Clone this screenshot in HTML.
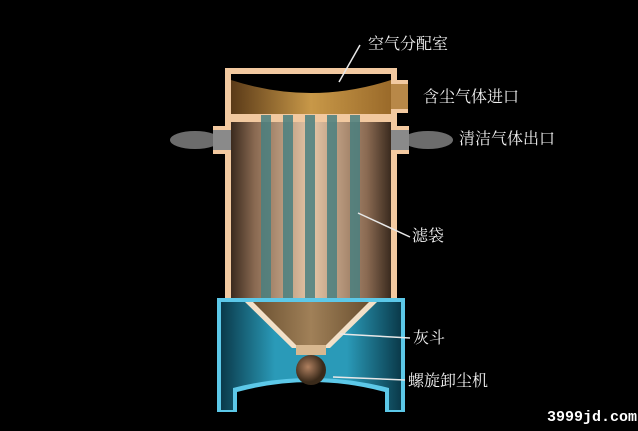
<!DOCTYPE html>
<html><head><meta charset="utf-8"><style>
html,body{margin:0;padding:0;background:#000;width:638px;height:431px;overflow:hidden}
svg{display:block}
text{font-family:"Liberation Serif","Noto Serif CJK SC",serif;fill:#f0f0f0;font-size:16px}
</style></head><body>
<svg width="638" height="431" viewBox="0 0 638 431">
<defs>
<linearGradient id="bag" x1="0" x2="1">
<stop offset="0" stop-color="#3a2a1e"/><stop offset="0.15" stop-color="#8a6a52"/><stop offset="0.5" stop-color="#e6c7a8"/><stop offset="0.85" stop-color="#8a6a52"/><stop offset="1" stop-color="#3a2a1e"/></linearGradient>
<linearGradient id="top" x1="0" x2="1">
<stop offset="0" stop-color="#5a3a18"/><stop offset="0.5" stop-color="#c89848"/><stop offset="1" stop-color="#9a6a2a"/></linearGradient>
<linearGradient id="blue" x1="0" x2="1">
<stop offset="0" stop-color="#0a3a4a"/><stop offset="0.3" stop-color="#2a9ab8"/><stop offset="0.7" stop-color="#2a9ab8"/><stop offset="1" stop-color="#0a3a4a"/></linearGradient>
<linearGradient id="cone" x1="0" x2="1">
<stop offset="0" stop-color="#6a5030"/><stop offset="0.5" stop-color="#a08058"/><stop offset="1" stop-color="#6a5030"/></linearGradient>
<radialGradient id="ball" cx="0.4" cy="0.4"><stop offset="0" stop-color="#b08060"/><stop offset="1" stop-color="#3a2a1a"/></radialGradient>
</defs>
<ellipse cx="195" cy="140" rx="25" ry="9" fill="#9a9a9a" opacity="0.7"/>
<ellipse cx="428" cy="140" rx="25" ry="9" fill="#9a9a9a" opacity="0.7"/>
<rect x="225" y="68" width="172" height="50" fill="#f2c9a0"/>
<rect x="231" y="74" width="160" height="40" fill="url(#top)"/>
<path d="M231 74 L391 74 L391 80 Q311 106 231 80 Z" fill="#000"/>
<rect x="391" y="84" width="17" height="25" fill="#b88848"/>
<rect x="391" y="80" width="17" height="4" fill="#f2c9a0"/>
<rect x="391" y="109" width="17" height="4" fill="#f2c9a0"/>
<rect x="225" y="118" width="172" height="182" fill="#f2c9a0"/>
<rect x="231" y="122" width="160" height="176" fill="url(#bag)"/>
<rect x="213" y="126" width="18" height="4" fill="#f2c9a0"/>
<rect x="213" y="150" width="18" height="4" fill="#f2c9a0"/>
<rect x="391" y="126" width="18" height="4" fill="#f2c9a0"/>
<rect x="391" y="150" width="18" height="4" fill="#f2c9a0"/>
<rect x="213" y="130" width="18" height="20" fill="#8a8a8a"/>
<rect x="391" y="130" width="18" height="20" fill="#8a8a8a"/>
<g fill="#4a8080" opacity="0.85">
<rect x="261" y="115" width="10" height="185"/><rect x="283" y="115" width="10" height="185"/><rect x="305" y="115" width="10" height="185"/><rect x="327" y="115" width="10" height="185"/><rect x="350" y="115" width="10" height="185"/>
</g>
<path d="M217 298 L405 298 L405 412 L385 412 L385 392 Q311 372 237 392 L237 412 L217 412 Z" fill="#5cc8e8"/>
<path d="M221 302 L401 302 L401 410 L389 410 L389 388 Q311 368 233 388 L233 410 L221 410 Z" fill="url(#blue)"/>
<path d="M245 302 L377 302 L330 348 L292 348 Z" fill="#f2e0c8"/>
<path d="M253 302 L369 302 L326 345 L296 345 Z" fill="url(#cone)"/>
<rect x="296" y="345" width="30" height="10" fill="#d8b890"/>
<circle cx="311" cy="370" r="15" fill="url(#ball)"/>
<g stroke="#e8e8e8" stroke-width="1.5">
<line x1="339" y1="82" x2="360" y2="45"/>
<line x1="358" y1="213" x2="410" y2="237"/>
<line x1="340" y1="334" x2="410" y2="338"/>
<line x1="333" y1="377" x2="405" y2="380"/>
</g>
<text x="368" y="49">空气分配室</text>
<text x="423" y="102">含尘气体进口</text>
<text x="459" y="144">清洁气体出口</text>
<text x="412" y="241">滤袋</text>
<text x="413" y="343">灰斗</text>
<text x="408" y="386">螺旋卸尘机</text>
<text x="547" y="421" style="font-family:'Liberation Mono',monospace;font-size:15px;font-weight:bold;fill:#fff">3999jd.com</text>
</svg>
</body></html>
